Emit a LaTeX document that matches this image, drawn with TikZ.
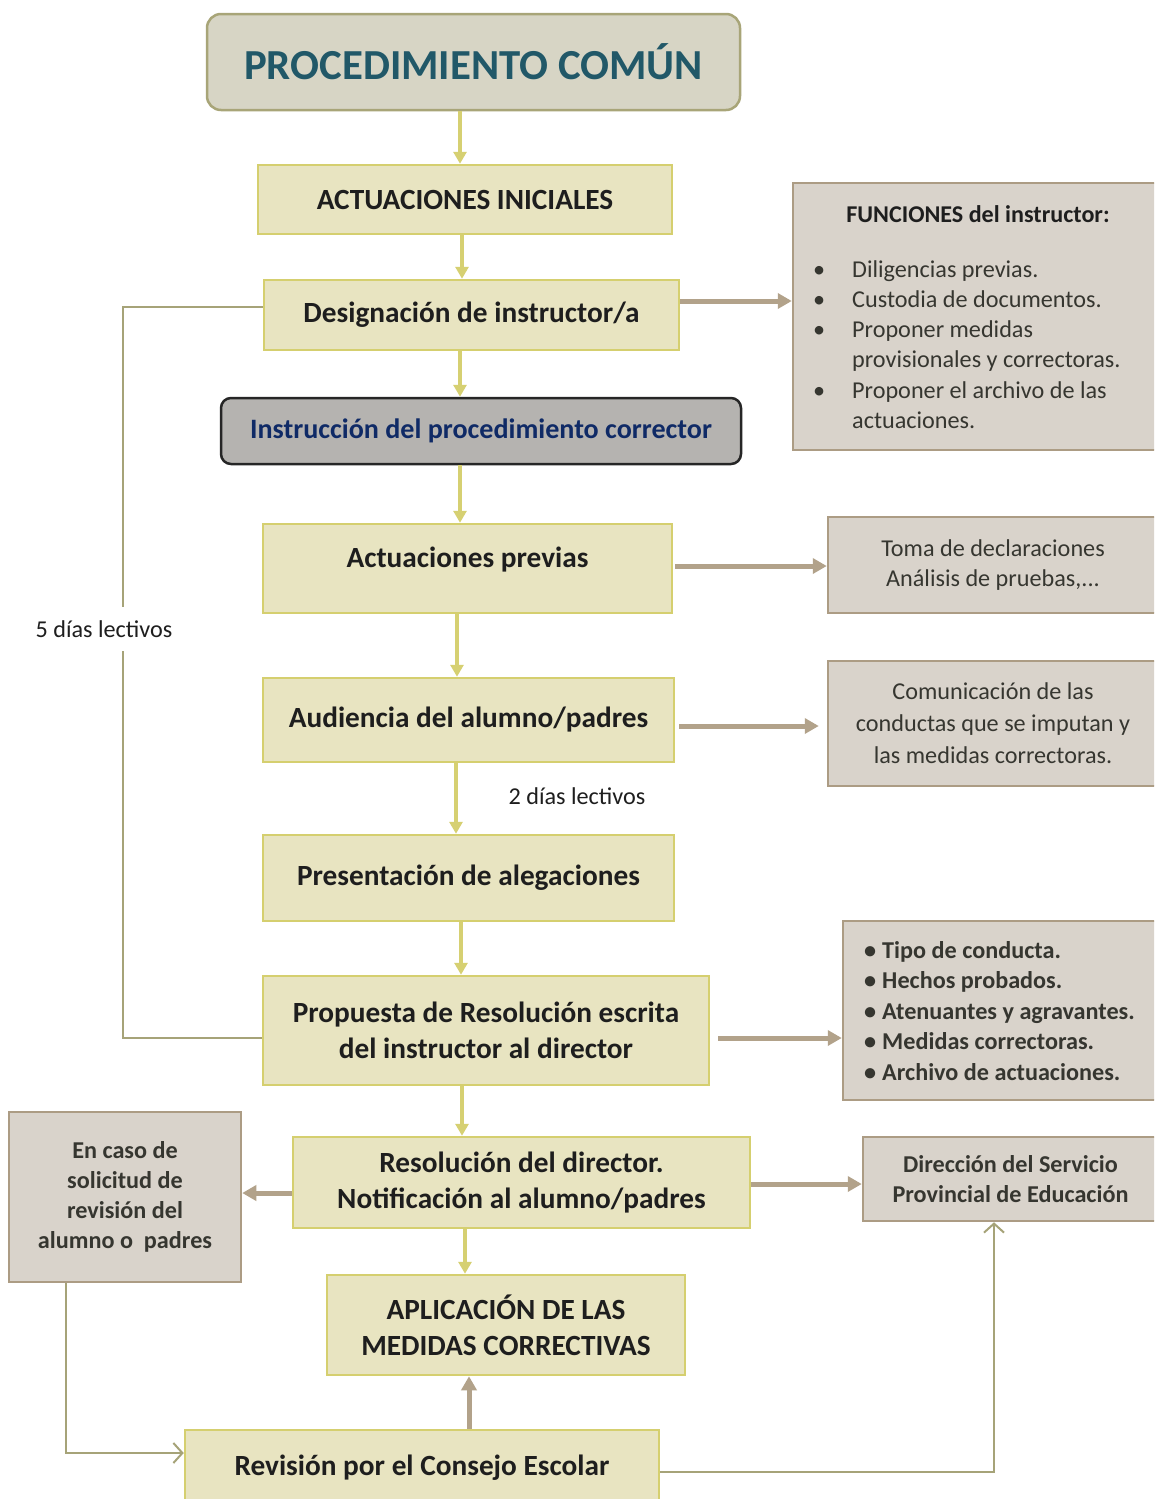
\documentclass[tikz,border=0pt]{standalone}
\usepackage{fontspec}
\setmainfont{Carlito}
\usetikzlibrary{arrows.meta}
\definecolor{yfill}{HTML}{E8E4C1}
\definecolor{yborder}{HTML}{D5CF6F}
\definecolor{yarrowc}{HTML}{D6D072}
\definecolor{bfill}{HTML}{D9D3CB}
\definecolor{bborder}{HTML}{AC9C84}
\definecolor{barrowc}{HTML}{B2A28A}
\definecolor{olive}{HTML}{A6A378}
\definecolor{tfill}{HTML}{D7D5C5}
\definecolor{tborder}{HTML}{A8A578}
\definecolor{ttext}{HTML}{215868}
\definecolor{gfill}{HTML}{B5B3B0}
\definecolor{gborder}{HTML}{262626}
\definecolor{gtext}{HTML}{0F2A66}
\definecolor{maintext}{HTML}{1E1E1E}
\definecolor{sidetext}{HTML}{363630}
\begin{document}
\begin{tikzpicture}[x=1pt,y=-1pt,
  ybox/.style={draw=yborder, fill=yfill, line width=2.5pt, inner sep=0pt, align=center,
    font=\bfseries\fontsize{29.3}{36}\selectfont, text=maintext},
  bbox/.style={draw=bborder, fill=bfill, line width=2.5pt, inner sep=0pt, align=center,
    font=\fontsize{24.2}{30}\selectfont, text=sidetext},
  yarr/.style={draw=yarrowc, line width=4pt, -{Triangle[length=12pt,width=13pt]}},
  barr/.style={draw=barrowc, line width=5pt, -{Triangle[length=14pt,width=15pt]}},
  thinline/.style={draw=olive, line width=2pt},
  thinarr/.style={draw=olive, line width=2pt, -{Straight Barb[length=9pt,width=20pt,line width=2pt]}},
  lbl/.style={font=\fontsize{24.2}{28}\selectfont, text=maintext, inner sep=0pt}
]
\clip (0,0) rectangle (1154,1499);
\fill[white] (0,0) rectangle (1154,1499);

% main column
\node[draw=tborder, fill=tfill, line width=2.5pt, rounded corners=14pt, minimum width=533, minimum height=96,
  font=\bfseries\fontsize{42.8}{50}\selectfont, text=ttext] (title) at (473.5,62) {PROCEDIMIENTO COMÚN};
\node[ybox, minimum width=414, minimum height=69] (ai) at (465,199.5) {ACTUACIONES INICIALES};
\node[ybox, minimum width=415, minimum height=70] (des) at (471.5,315) {Designación de instructor/a};
\node[draw=gborder, fill=gfill, line width=2.5pt, rounded corners=10pt, minimum width=520, minimum height=66,
  font=\bfseries\fontsize{28.1}{32}\selectfont, text=gtext] (ins) at (481,431) {Instrucción del procedimiento corrector};
\node[ybox, minimum width=409, minimum height=89] (ap) at (467.5,568.5) {\raisebox{9pt}[\height][\depth]{Actuaciones previas}};
\node[ybox, minimum width=411, minimum height=84] (aud) at (468.5,720) {Audiencia del alumno/padres};
\node[ybox, minimum width=411, minimum height=86] (pre) at (468.5,878) {Presentación de alegaciones};
\node[ybox, minimum width=446, minimum height=109] (prop) at (486,1030.5) {Propuesta de Resolución escrita\\del instructor al director};
\node[ybox, minimum width=457, minimum height=91] (res) at (521.5,1182.5) {Resolución del director.\\Notificación al alumno/padres};
\node[ybox, minimum width=358, minimum height=100] (apl) at (506,1325) {APLICACIÓN DE LAS\\MEDIDAS CORRECTIVAS};
\node[ybox, minimum width=474, minimum height=76] (rev) at (422,1468) {Revisión por el Consejo Escolar};

% side boxes
\node[bbox, minimum width=365, minimum height=267] (fun) at (975.5,316.5) {};
\node[font=\bfseries\fontsize{24.1}{28}\selectfont, text=maintext, inner sep=0pt] (funt) at (978,214) {FUNCIONES del instructor:};
\node[anchor=base west, inner sep=0pt, font=\fontsize{24.2}{30.3}\selectfont, text=sidetext] (funl) at (813,277)
  {\begin{tabular}[t]{@{}p{39pt}@{}l@{}}
   \textbullet & Diligencias previas.\\
   \textbullet & Custodia de documentos.\\
   \textbullet & Proponer medidas\\
               & provisionales y correctoras.\\
   \textbullet & Proponer el archivo de las\\
               & actuaciones.
   \end{tabular}};
\node[bbox, minimum width=330, minimum height=96] (toma) at (993,565) {Toma de declaraciones\\Análisis de pruebas,...};
\node[bbox, minimum width=330, minimum height=125, font=\fontsize{24.2}{32}\selectfont] (com) at (993,723.5)
  {Comunicación de las\\conductas que se imputan y\\las medidas correctoras.};
\node[bbox, minimum width=315, minimum height=179] (lst) at (1000.5,1010.5) {};
\node[anchor=base west, inner sep=0pt, font=\bfseries\fontsize{24.2}{30.5}\selectfont, text=sidetext] (lstl) at (864,958)
  {\begin{tabular}[t]{@{}l@{\hspace{6pt}}l@{}}
   \textbullet & Tipo de conducta.\\
   \textbullet & Hechos probados.\\
   \textbullet & Atenuantes y agravantes.\\
   \textbullet & Medidas correctoras.\\
   \textbullet & Archivo de actuaciones.
   \end{tabular}};
\node[bbox, minimum width=295, minimum height=84, font=\bfseries\fontsize{24.2}{30}\selectfont] (dir) at (1010.5,1179)
  {Dirección del Servicio\\Provincial de Educación};
\node[bbox, minimum width=232, minimum height=170, font=\bfseries\fontsize{24.2}{30}\selectfont] (enc) at (125,1197)
  {En caso de\\solicitud de\\revisión del\\alumno o~ padres};

% vertical yellow arrows
\draw[yarr] ([xshift=-13.5pt]title.south) coordinate (c1) -- (c1 |- ai.north);
\draw[yarr] ([xshift=-3pt]ai.south) coordinate (c2) -- (c2 |- des.north);
\draw[yarr] ([xshift=-11.5pt]des.south) coordinate (c3) -- (c3 |- ins.north);
\draw[yarr] ([xshift=-21pt]ins.south) coordinate (c4) -- (c4 |- ap.north);
\draw[yarr] ([xshift=-10.5pt]ap.south) coordinate (c5) -- (c5 |- aud.north);
\draw[yarr] ([xshift=-12.5pt]aud.south) coordinate (c6) -- (c6 |- pre.north);
\draw[yarr] ([xshift=-7.5pt]pre.south) coordinate (c7) -- (c7 |- prop.north);
\draw[yarr] ([xshift=-24pt]prop.south) coordinate (c8) -- (c8 |- res.north);
\draw[yarr] ([xshift=-56.5pt]res.south) coordinate (c9) -- (c9 |- apl.north);
\draw[barr] ([xshift=47pt]rev.north) coordinate (c10) -- (c10 |- apl.south);

% horizontal brown arrows
\draw[barr] ([yshift=14pt]des.east) coordinate (h1) -- (h1 -| fun.west);
\draw[barr, shorten <=2pt] ([yshift=2.5pt]ap.east) coordinate (h2) -- (h2 -| toma.west);
\draw[barr, shorten <=4pt, shorten >=8pt] ([yshift=-6pt]aud.east) coordinate (h3) -- (h3 -| com.west);
\draw[barr, shorten <=8pt] ([yshift=-7.5pt]prop.east) coordinate (h4) -- (h4 -| lst.west);
\draw[barr] ([yshift=-1.5pt]res.east) coordinate (h5) -- (h5 -| dir.west);
\draw[barr] ([yshift=-10.5pt]res.west) coordinate (h6) -- (h6 -| enc.east);

% thin connectors
\draw[thinline] ([yshift=8pt]des.west) -- ++(-140,0) coordinate (k1) |- ([yshift=-7.5pt]prop.west);
\node[lbl, fill=white, inner ysep=14pt, inner xsep=2pt] (cinco) at (104,629) {5 días lectivos};
\node[lbl] (dos) at (577,796) {2 días lectivos};
\draw[thinarr] ([xshift=-59pt]enc.south) |- ([yshift=15pt]rev.west);
\draw[thinarr] ([yshift=-4pt]rev.east) -| ([xshift=-16.5pt]dir.south);
\end{tikzpicture}
\end{document}
